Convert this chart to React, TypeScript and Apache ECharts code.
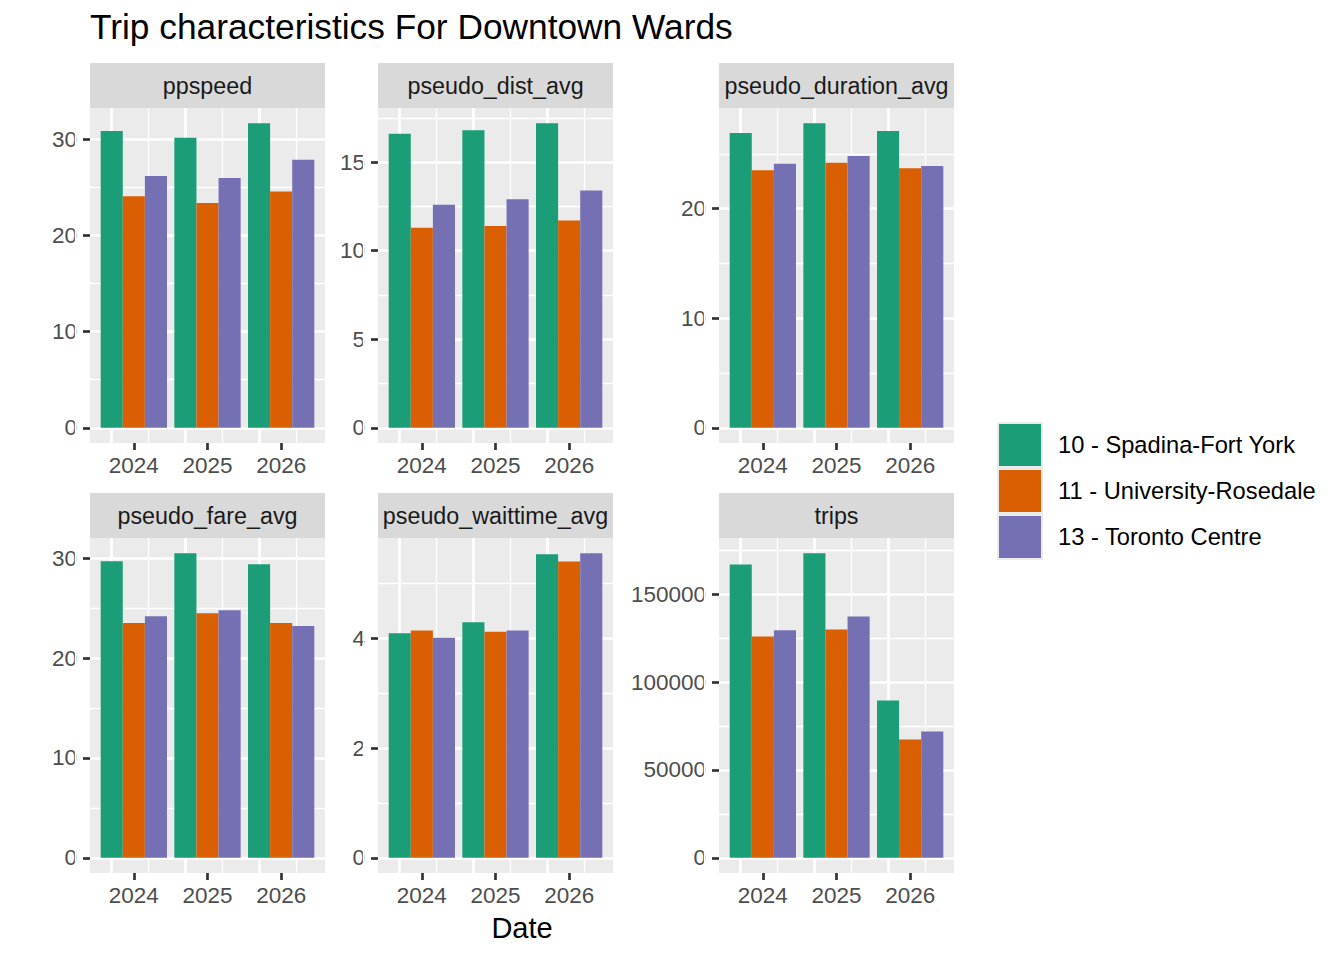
import React, { useEffect, useRef } from 'react';
import * as echarts from 'echarts';

// ---------- data ----------
const years = [2024, 2025, 2026];
const wards = ['10 - Spadina-Fort York', '11 - University-Rosedale', '13 - Toronto Centre'];
const wardColors = ['#1B9E77', '#D95F02', '#7570B3'];
const panelNames = ['ppspeed', 'pseudo_dist_avg', 'pseudo_duration_avg', 'pseudo_fare_avg', 'pseudo_waittime_avg', 'trips'];

const ppspeedSpadina = [30.9, 30.2, 31.7];
const ppspeedUniversity = [24.1, 23.4, 24.6];
const ppspeedToronto = [26.2, 26.0, 27.9];

const distSpadina = [16.6, 16.8, 17.2];
const distUniversity = [11.3, 11.4, 11.7];
const distToronto = [12.6, 12.9, 13.4];

const durationSpadina = [26.9, 27.8, 27.1];
const durationUniversity = [23.5, 24.2, 23.7];
const durationToronto = [24.1, 24.8, 23.9];

const fareSpadina = [29.7, 30.5, 29.4];
const fareUniversity = [23.5, 24.5, 23.5];
const fareToronto = [24.2, 24.8, 23.2];

const waitSpadina = [4.09, 4.29, 5.53];
const waitUniversity = [4.14, 4.12, 5.40];
const waitToronto = [4.01, 4.14, 5.55];

const tripsSpadina = [167000, 173400, 89500];
const tripsUniversity = [126000, 130000, 67300];
const tripsToronto = [129500, 137400, 71900];

const ppspeedTicks = [0, 10, 20, 30];
const distTicks = [0, 5, 10, 15];
const durationTicks = [0, 10, 20];
const fareTicks = [0, 10, 20, 30];
const waitTicks = [0, 2, 4];
const tripsTicks = [0, 50000, 100000, 150000];

const panelValues = [
  [ppspeedSpadina, ppspeedUniversity, ppspeedToronto],
  [distSpadina, distUniversity, distToronto],
  [durationSpadina, durationUniversity, durationToronto],
  [fareSpadina, fareUniversity, fareToronto],
  [waitSpadina, waitUniversity, waitToronto],
  [tripsSpadina, tripsUniversity, tripsToronto],
];
const panelTicks = [ppspeedTicks, distTicks, durationTicks, fareTicks, waitTicks, tripsTicks];

// ---------- layout ----------
const FONT = '"Liberation Sans", Arial, Helvetica, sans-serif';
const colLeft = [90, 378, 719];
const panelW = 235;
const rowTop = [108, 538];
const panelH = 335;
const stripH = 45;
const barWidthFrac = 0.9;
const MAJOR_W = 2.7;
const MINOR_W = 1.35;

function buildOption() {
  const xSpan = years[years.length - 1] - years[0] + barWidthFrac;
  const xLo = years[0] - barWidthFrac / 2 - 0.05 * xSpan;
  const xHi = years[years.length - 1] + barWidthFrac / 2 + 0.05 * xSpan;
  const xMinor = [years[0] - 0.5, ...years.map((y) => y + 0.5)].filter((v) => v > xLo && v < xHi);

  const grids: any[] = [];
  const xAxes: any[] = [];
  const yAxes: any[] = [];
  const series: any[] = [];
  const graphics: any[] = [];

  panelNames.forEach((name, i) => {
    const col = i % 3;
    const row = Math.floor(i / 3);
    const left = colLeft[col];
    const top = rowTop[row];
    grids.push({
      left,
      top,
      width: panelW,
      height: panelH,
      show: true,
      backgroundColor: '#EBEBEB',
      borderWidth: 0,
      containLabel: false,
    });

    const vals = panelValues[i];
    const dataMax = Math.max(...vals.flat());
    const yLo = -0.05 * dataMax;
    const yHi = 1.05 * dataMax;
    const ticks = panelTicks[i];
    const step = ticks[1] - ticks[0];
    const yMinor = [ticks[0] - step / 2, ...ticks.map((t) => t + step / 2)].filter((v) => v > yLo && v < yHi);

    xAxes.push({
      type: 'value',
      gridIndex: i,
      position: 'bottom',
      min: xLo,
      max: xHi,
      axisLine: { show: false, onZero: false },
      axisTick: { show: true, inside: false, customValues: years, length: 7, lineStyle: { color: '#333333', width: MAJOR_W } },
      axisLabel: {
        customValues: years,
        margin: 11,
        fontSize: 22.5,
        color: '#4D4D4D',
        fontFamily: FONT,
        formatter: (v: number) => String(v),
      },
      splitLine: { show: false },
    });
    yAxes.push({
      type: 'value',
      gridIndex: i,
      position: 'left',
      min: yLo,
      max: yHi,
      axisLine: { show: false, onZero: false },
      axisTick: { show: true, inside: false, customValues: ticks, length: 7, lineStyle: { color: '#333333', width: MAJOR_W } },
      axisLabel: {
        customValues: ticks,
        margin: 13,
        fontSize: 22.5,
        color: '#4D4D4D',
        fontFamily: FONT,
        formatter: (v: number) => String(v),
      },
      splitLine: { show: false },
    });

    const gridLines: any[] = [];
    const white = (w: number) => ({ color: '#FFFFFF', width: w, type: 'solid', opacity: 1 });
    xMinor.forEach((v) => gridLines.push({ xAxis: v, lineStyle: white(MINOR_W) }));
    yMinor.forEach((v) => gridLines.push({ yAxis: v, lineStyle: white(MINOR_W) }));
    years.forEach((v) => gridLines.push({ xAxis: v, lineStyle: white(MAJOR_W) }));
    ticks.forEach((v) => gridLines.push({ yAxis: v, lineStyle: white(MAJOR_W) }));

    wards.forEach((ward, k) => {
      const s: any = {
        type: 'bar',
        name: ward,
        xAxisIndex: i,
        yAxisIndex: i,
        data: years.map((y, j) => [y, vals[k][j]]),
        itemStyle: { color: wardColors[k] },
        barGap: '0%',
        barCategoryGap: '10%',
        z: 2,
        silent: true,
      };
      if (k === 0) {
        s.markLine = {
          silent: true,
          symbol: 'none',
          z: 1,
          label: { show: false },
          emphasis: { disabled: true },
          animation: false,
          data: gridLines,
        };
      }
      series.push(s);
    });

    // strip
    graphics.push({
      type: 'rect',
      shape: { x: left, y: top - stripH, width: panelW, height: stripH },
      style: { fill: '#D9D9D9' },
      silent: true,
    });
    graphics.push({
      type: 'text',
      x: left + panelW / 2,
      y: top - stripH / 2,
      style: {
        text: name,
        fontSize: 23.3,
        fill: '#1A1A1A',
        fontFamily: FONT,
        align: 'center',
        verticalAlign: 'middle',
      },
      silent: true,
    });
  });

  // x axis title
  graphics.push({
    type: 'text',
    x: (colLeft[0] + colLeft[2] + panelW) / 2,
    y: 928,
    style: {
      text: 'Date',
      fontSize: 29,
      fill: '#000000',
      fontFamily: FONT,
      align: 'center',
      verticalAlign: 'middle',
    },
    silent: true,
  });

  // legend key background
  graphics.push({
    type: 'rect',
    shape: { x: 997, y: 422, width: 46, height: 46 * wards.length },
    style: { fill: '#EBEBEB' },
    silent: true,
    z: 0,
  });

  return {
    animation: false,
    textStyle: { fontFamily: FONT },
    title: {
      text: 'Trip characteristics For Downtown Wards',
      left: 90,
      top: 9,
      padding: 0,
      textStyle: { fontSize: 35.3, fontWeight: 'normal', color: '#000000', fontFamily: FONT },
    },
    legend: {
      data: wards,
      orient: 'vertical',
      left: 999,
      top: 424,
      itemWidth: 42,
      itemHeight: 42,
      itemGap: 4,
      padding: 0,
      icon: 'rect',
      selectedMode: false,
      textStyle: { fontSize: 23.7, color: '#000000', fontFamily: FONT, padding: [0, 0, 0, 12] },
    },
    grid: grids,
    xAxis: xAxes,
    yAxis: yAxes,
    series,
    graphic: graphics,
  };
}

export default function App() {
  const ref = useRef<HTMLDivElement>(null);
  useEffect(() => {
    document.body.style.margin = '0';
    if (!ref.current) return;
    const chart = echarts.init(ref.current, undefined, { renderer: 'svg' });
    chart.setOption(buildOption() as any);
    return () => {
      chart.dispose();
    };
  }, []);
  return <div ref={ref} style={{ width: 1344, height: 960, background: '#FFFFFF' }} />;
}
